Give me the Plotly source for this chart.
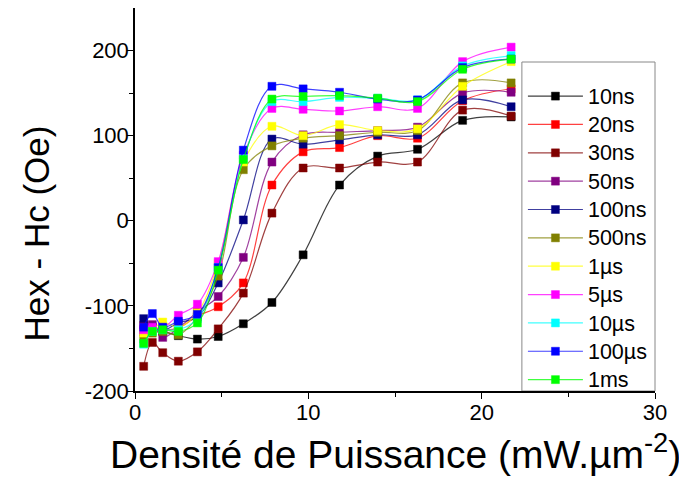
import plotly.graph_objects as go

# x values: power density (mW.µm^-2)
density = [0.5, 1.0, 1.6, 2.5, 3.6, 4.8, 6.25, 7.9, 9.7, 11.8, 14.0, 16.3, 18.9, 21.7]

series_names = ["10ns", "20ns", "30ns", "50ns", "100ns", "500ns", "1µs", "5µs", "10µs", "100µs", "1ms"]

v_10ns  = [-128, -128, -130, -135, -139, -136, -121, -96, -40, 42, 76, 84, 118, 122]
v_20ns  = [-123, -125, -128, -126, -112, -101, -73, 42, 81, 86, 100, 97, 141, 155]
v_30ns  = [-171, -143, -155, -165, -154, -127, -85, 9, 62, 62, 69, 69, 130, 123]
v_50ns  = [-130, -122, -137, -126, -107, -89, -43, 69, 101, 104, 106, 110, 150, 151]
v_100ns = [-115, -125, -129, -120, -113, -73, 1, 96, 90, 95, 101, 101, 142, 134]
v_500ns = [-139, -132, -130, -134, -113, -65, 60, 88, 97, 100, 104, 106, 162, 162]
v_1us   = [-132, -128, -119, -125, -108, -50, 69, 111, 100, 113, 106, 108, 158, 187]
v_5us   = [-128, -125, -126, -111, -98, -48, 77, 132, 131, 129, 134, 132, 187, 204]
v_10us  = [-145, -130, -128, -128, -115, -55, 73, 140, 140, 145, 144, 142, 182, 194]
v_100us = [-125, -109, -125, -118, -110, -55, 83, 158, 155, 151, 143, 142, 180, 190]
v_1ms   = [-144, -130, -128, -130, -120, -58, 72, 143, 146, 147, 144, 140, 178, 190]

series_values = [v_10ns, v_20ns, v_30ns, v_50ns, v_100ns, v_500ns, v_1us, v_5us, v_10us, v_100us, v_1ms]

y_tickvals = [-200, -100, 0, 100, 200]
y_ticktext = ["-200", "-100", "0", "100", "200"]

x_title = "Densité de Puissance (mW.µm<sup>-2</sup>)"
y_title = "Hex - Hc (Oe)"

marker_colors = ["#000000", "#FF0000", "#800000", "#800080", "#000080", "#808000",
                 "#FFFF00", "#FF00FF", "#00FFFF", "#0000FF", "#00FF00"]


def lighten(hex_color, alpha=0.7):
    r = int(hex_color[1:3], 16)
    g = int(hex_color[3:5], 16)
    b = int(hex_color[5:7], 16)
    return f"rgba({r},{g},{b},{alpha})"


fig = go.Figure()
for name, vals, col in zip(series_names, series_values, marker_colors):
    fig.add_trace(go.Scatter(
        x=density, y=vals, name=f'<span style="font-size:21.5px">{name}</span>',
        mode="lines+markers",
        line=dict(color=lighten(col, 0.75), width=1.2, shape="spline", smoothing=1.0),
        marker=dict(symbol="square", size=8, color=col,
                    line=dict(color=lighten(col, 0.45), width=1)),
    ))

FONT = "Liberation Sans, Arial, sans-serif"

fig.update_layout(
    width=687, height=485,
    margin=dict(l=127, r=40, t=0, b=102, autoexpand=False),
    paper_bgcolor="white", plot_bgcolor="white",
    font=dict(family=FONT, color="black"),
    showlegend=True,
    legend=dict(
        x=0.746, y=0.82, xanchor="left", yanchor="top",
        bgcolor="rgba(0,0,0,0)", borderwidth=0,
        font=dict(size=19.5, family=FONT, color="black"),
        tracegroupgap=0, itemwidth=55,
    ),
    xaxis=dict(
        range=[0, 30], tickmode="linear", tick0=0, dtick=10,
        ticks="outside", ticklen=6, tickwidth=1.2, tickcolor="black",
        minor=dict(dtick=5, ticks="outside", ticklen=4, tickwidth=1.2, tickcolor="black"),
        showline=True, linecolor="black", linewidth=1.5, mirror=False,
        showgrid=False, zeroline=False, automargin=False,
        tickfont=dict(size=22, family=FONT), ticklabelstandoff=-5,
    ),
    yaxis=dict(
        range=[-200, 250], tickmode="array", tickvals=y_tickvals, ticktext=y_ticktext,
        ticks="outside", ticklen=6, tickwidth=1.2, tickcolor="black",
        minor=dict(tickvals=[-150, -50, 50, 150], ticks="outside", ticklen=4,
                   tickwidth=1.2, tickcolor="black"),
        showline=True, linecolor="black", linewidth=1.5, mirror=False,
        showgrid=False, zeroline=False, automargin=False,
        tickfont=dict(size=22, family=FONT), ticklabelstandoff=-6,
    ),
    shapes=[dict(
        type="rect", xref="paper", yref="paper",
        x0=0.744, x1=1.0, y0=0.0, y1=0.859,
        line=dict(color="#888888", width=1), fillcolor="white", layer="below",
    )],
    annotations=[
        dict(text=x_title, xref="paper", yref="paper", x=0.5, y=-0.159,
             xanchor="center", yanchor="middle", showarrow=False,
             font=dict(size=39, family=FONT, color="black")),
        dict(text=y_title, xref="paper", yref="paper", x=-0.19, y=0.412,
             xanchor="center", yanchor="middle", showarrow=False, textangle=-90,
             font=dict(size=35, family=FONT, color="black")),
    ],
)

fig.write_html("out.html")
